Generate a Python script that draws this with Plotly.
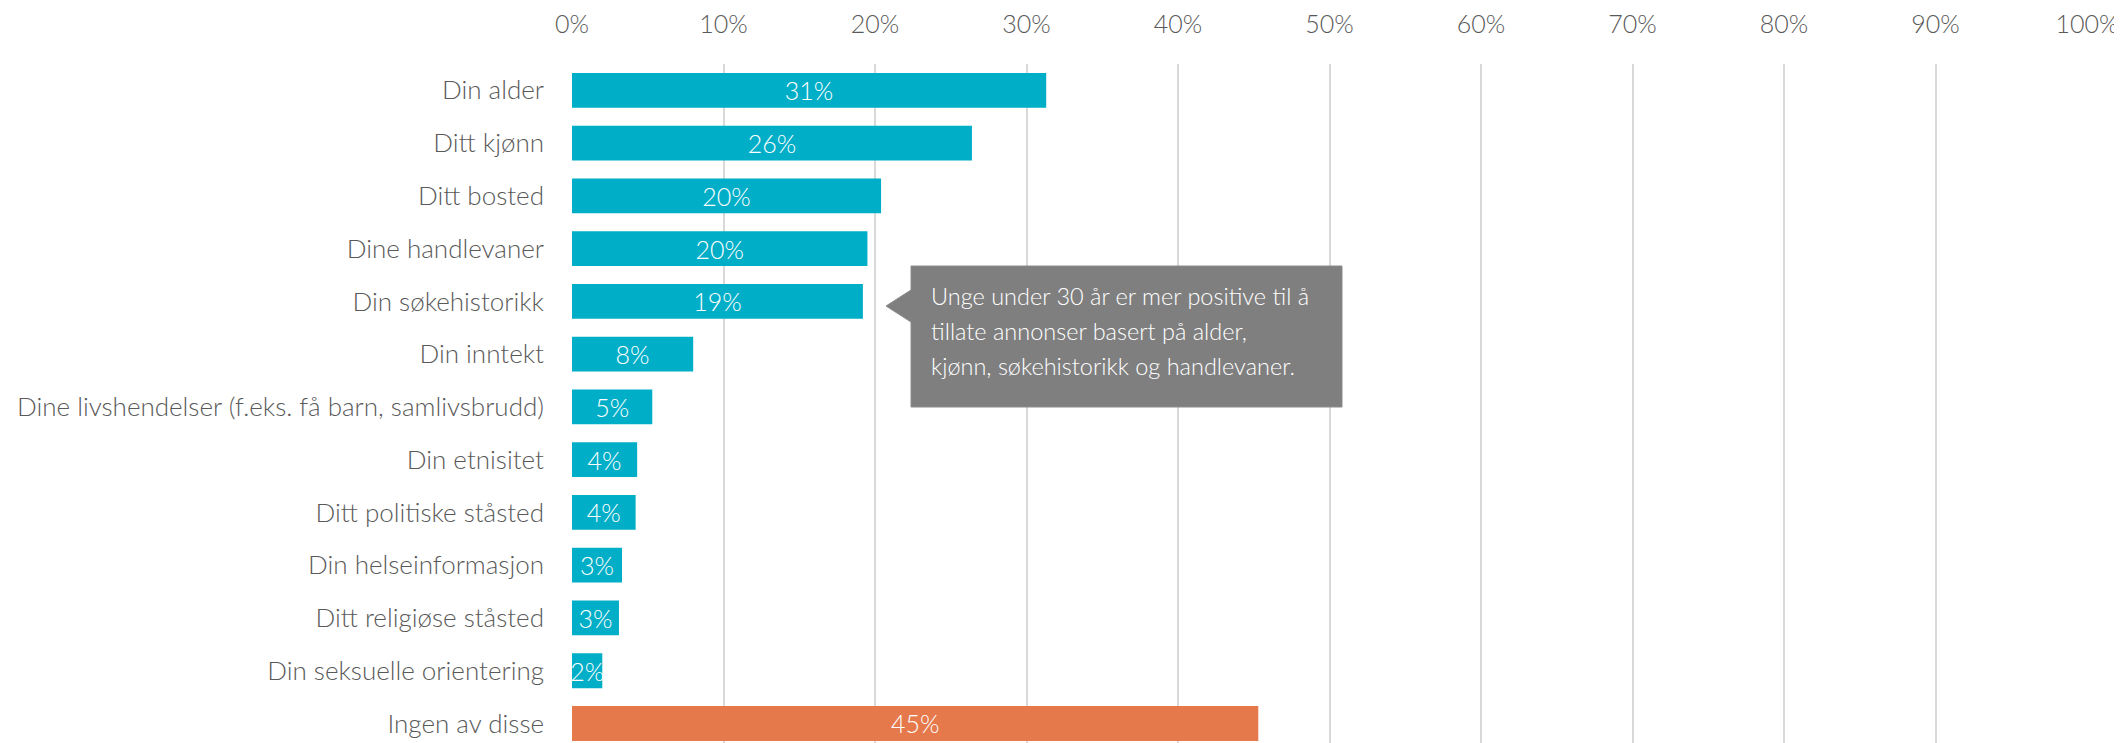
import plotly.graph_objects as go

categories = [
    "Din alder", "Ditt kjønn", "Ditt bosted", "Dine handlevaner", "Din søkehistorikk",
    "Din inntekt", "Dine livshendelser (f.eks. få barn, samlivsbrudd)", "Din etnisitet",
    "Ditt politiske ståsted", "Din helseinformasjon", "Ditt religiøse ståsted",
    "Din seksuelle orientering", "Ingen av disse",
]
values = [31.3, 26.4, 20.4, 19.5, 19.2, 8.0, 5.3, 4.3, 4.2, 3.3, 3.1, 2.0, 45.3]
labels = ["31%", "26%", "20%", "20%", "19%", "8%", "5%", "4%", "4%", "3%", "3%", "2%", "45%"]
colors = ["#00AEC7"] * 12 + ["#E5794C"]
x_ticks = [0, 10, 20, 30, 40, 50, 60, 70, 80, 90, 100]
x_tick_labels = [f"{t}%" for t in x_ticks]
note_lines = [
    "Unge under 30 år er mer positive til å",
    "tillate annonser basert på alder,",
    "kjønn, søkehistorikk og handlevaner.",
]

FONT = "Lato"
O = 8  # page body margin offset
W, H = 2122 - O, 743 - O
L, T, B = 572 - O, 64 - O, 0
pw = 1515
R = W - L - pw
ph = H - T - B

fig = go.Figure(go.Bar(
    x=values, y=categories, orientation="h",
    marker=dict(color=colors, line=dict(width=0)),
    text=labels, textposition="inside", insidetextanchor="middle",
    constraintext="none", textangle=0, cliponaxis=True,
    textfont=dict(family=FONT, size=25, color="white", weight=300),
    hoverinfo="skip",
))

fig.update_layout(
    width=W, height=H,
    margin=dict(l=L, r=R, t=T, b=B, pad=0),
    paper_bgcolor="white", plot_bgcolor="white",
    bargap=0.34, showlegend=False,
    font=dict(family=FONT, color="#595959"),
)
fig.update_xaxes(
    side="top", range=[0, 100], tickvals=x_ticks, ticktext=x_tick_labels,
    showgrid=True, gridcolor="#D9D9D9", gridwidth=1.5, zeroline=False,
    showline=False, ticks="", ticklabelstandoff=25,
    tickfont=dict(family=FONT, size=25, color="#595959", weight=300),
)
fig.update_yaxes(
    categoryorder="array", categoryarray=categories,
    range=[12.37, -0.5], showgrid=False, zeroline=False, showline=False,
    ticks="", ticklabelstandoff=27,
    tickfont=dict(family=FONT, size=26, color="#595959", weight=300),
)

def px_to_paper_x(px):
    return (px - O - L) / pw

def py_to_paper_y(py):
    return 1 - (py - O - T) / ph

bx0, bx1 = px_to_paper_x(911), px_to_paper_x(1342)
by0, by1 = py_to_paper_y(266), py_to_paper_y(407)
tipx, tipy = px_to_paper_x(886), py_to_paper_y(306)
b1, b2 = py_to_paper_y(290), py_to_paper_y(322)
path = (f"M {bx0},{by0} L {bx1},{by0} L {bx1},{by1} L {bx0},{by1} "
        f"L {bx0},{b2} L {tipx},{tipy} L {bx0},{b1} Z")
fig.add_shape(type="path", xref="paper", yref="paper", path=path,
              fillcolor="#7F7F7F", line=dict(color="#8C8C8C", width=1), layer="above")

for i, line in enumerate(note_lines):
    fig.add_annotation(
        x=px_to_paper_x(929), y=py_to_paper_y(296 + i * 35),
        xref="paper", yref="paper", xanchor="left", yanchor="middle",
        text=line, showarrow=False, align="left",
        font=dict(family=FONT, size=23.5, color="white", weight=300),
    )

fig.write_html("out.html")
